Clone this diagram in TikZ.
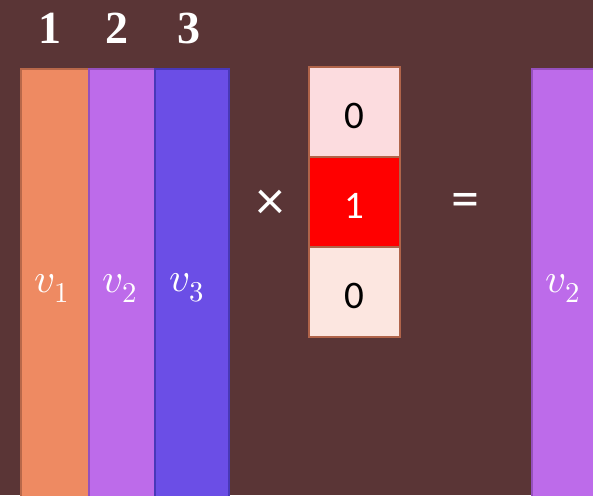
\documentclass[tikz,border=0pt]{standalone}
\usepackage{fontspec}
\usepackage{unicode-math}
\setmainfont{Carlito}
\setmathfont{Latin Modern Math}
\newfontfamily\serifbold{Liberation Serif}
\begin{document}
\begin{tikzpicture}[x=1pt,y=-1pt,
  colbox/.style={draw, line width=2pt, minimum width=#1, minimum height=440pt, anchor=north, inner sep=0pt},
  cellbox/.style={draw=cellborder, line width=2pt, minimum width=91pt, minimum height=90pt, inner sep=0pt},
  celltext/.style={font=\fontsize{39}{44}\selectfont},
  idx/.style={text=white, font=\serifbold\bfseries\fontsize{46}{50}\selectfont},
  vlab/.style={text=white, font=\fontsize{41}{44}\selectfont},
  opsym/.style={text=white, font=\fontsize{56}{60}\selectfont}]
\definecolor{bg}{HTML}{5A3536}
\definecolor{cA}{HTML}{EE8A62}
\definecolor{cAb}{HTML}{B8684A}
\definecolor{cB}{HTML}{BD6BEA}
\definecolor{cBb}{HTML}{9550BE}
\definecolor{cC}{HTML}{6B4EE6}
\definecolor{cCb}{HTML}{4838B8}
\definecolor{cellborder}{HTML}{B0644A}
\definecolor{cellA}{HTML}{FCDCDF}
\definecolor{cellC}{HTML}{FCE6E0}
\useasboundingbox (0,0) rectangle (593,495);
\clip (0,0) rectangle (593,495);
\fill[bg] (0,0) rectangle (593,495);
\node[colbox=68pt, draw=cAb, fill=cA] (c1) at (55,68) {};
\node[colbox=66pt, draw=cBb, fill=cB] (c2) at (122,68) {};
\node[colbox=74pt, draw=cCb, fill=cC] (c3) at (192,68) {};
\node[colbox=66pt, draw=cBb, fill=cB] (r) at (565,68) {};
\node[vlab] (l1) at (52,288) {$v_1$};
\node[vlab] (l2) at (120,288) {$v_2$};
\node[vlab] (l3) at (187,288) {$v_3$};
\node[vlab] (lr) at (563,288) {$v_2$};
\node[idx] (i1) at (50,28) {1};
\node[idx] (i2) at (117,28) {2};
\node[idx] (i3) at (189,28) {3};
\node[cellbox, fill=cellA] (e1) at (354.5,112) {};
\node[cellbox, fill=red] (e2) at (354.5,202) {};
\node[cellbox, fill=cellC] (e3) at (354.5,292) {};
\node[celltext] (t1) at ([yshift=-4pt]e1.center) {0};
\node[celltext, text=white] (t2) at ([yshift=-4pt]e2.center) {1};
\node[celltext] (t3) at ([yshift=-4pt]e3.center) {0};
\node[opsym] (times) at (270,205) {×};
\node[opsym] (eq) at (465,205) {=};
\end{tikzpicture}
\end{document}
